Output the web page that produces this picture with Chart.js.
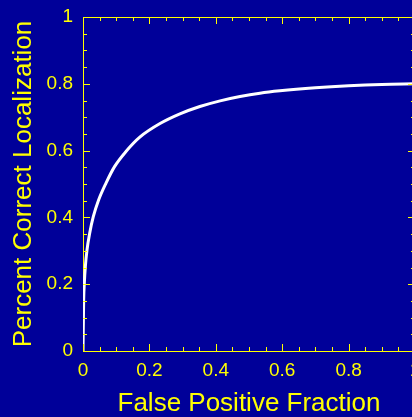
<!DOCTYPE html>
<html>
<head>
<meta charset="utf-8">
<script src="https://cdn.jsdelivr.net/npm/chart.js@4.4.1/dist/chart.umd.min.js"></script>
<style>
  html, body { margin: 0; padding: 0; background: #000099; overflow: hidden; width: 412px; height: 417px; position: relative; }
  #wrap { position: absolute; left: 0; top: 0; width: 422px; height: 417px; }
  canvas { display: block; width: 422px !important; height: 417px !important; }
</style>
</head>
<body>
<div id="wrap"><canvas id="c" width="422" height="417"></canvas></div>
<script>
// Data
const fpf = [0, 0.002, 0.004, 0.007, 0.012, 0.020, 0.031, 0.047, 0.069, 0.095, 0.130, 0.172, 0.232, 0.292, 0.352, 0.413, 0.473, 0.533, 0.593, 0.70, 0.80, 0.90, 1.00];
const pcl = [0, 0.153, 0.203, 0.252, 0.302, 0.352, 0.402, 0.452, 0.502, 0.552, 0.598, 0.641, 0.681, 0.710, 0.732, 0.749, 0.762, 0.772, 0.779, 0.788, 0.794, 0.798, 0.800];
const xTickValues = [0, 0.2, 0.4, 0.6, 0.8, 1];
const xTickLabels = ['0', '0.2', '0.4', '0.6', '0.8', '1'];
const yTickValues = [0, 0.2, 0.4, 0.6, 0.8, 1];
const yTickLabels = ['0', '0.2', '0.4', '0.6', '0.8', '1'];
const minorStep = 0.05;
const xTitle = 'False Positive Fraction';
const yTitle = 'Percent Correct Localization';

const YELLOW = '#FFFF00';
const BG = '#000099';

const points = fpf.map((x, i) => ({ x: x, y: pcl[i] }));

const frameTicks = {
  id: 'frameTicks',
  beforeDraw(chart) {
    const ctx = chart.ctx;
    ctx.save();
    ctx.fillStyle = BG;
    ctx.fillRect(0, 0, chart.width, chart.height);
    ctx.restore();
  },
  afterDatasetsDraw(chart) {
    const { ctx, chartArea: a } = chart;
    const xs = chart.scales.x, ys = chart.scales.y;
    ctx.save();
    ctx.strokeStyle = YELLOW;
    ctx.lineWidth = 1;
    ctx.beginPath();
    ctx.moveTo(a.left, a.top + 0.5); ctx.lineTo(a.right, a.top + 0.5);
    ctx.moveTo(a.right - 0.5, a.top); ctx.lineTo(a.right - 0.5, a.bottom);
    ctx.stroke();
    const n = Math.round(1 / minorStep);
    ctx.beginPath();
    for (let i = 0; i <= n; i++) {
      const v = i * minorStep;
      const major = i % 4 === 0;
      const len = major ? 7 : 4;
      const px = Math.round(xs.getPixelForValue(v)) + 0.5;
      ctx.moveTo(px, a.bottom); ctx.lineTo(px, a.bottom - len);
      ctx.moveTo(px, a.top); ctx.lineTo(px, a.top + len);
      const py = Math.round(ys.getPixelForValue(v)) + 0.5;
      ctx.moveTo(a.left, py); ctx.lineTo(a.left + len, py);
      ctx.moveTo(a.right, py); ctx.lineTo(a.right - len, py);
    }
    ctx.stroke();
    ctx.restore();
  }
};

new Chart(document.getElementById('c'), {
  type: 'scatter',
  data: {
    datasets: [{
      data: points,
      showLine: true,
      borderColor: '#FFFFFF',
      borderWidth: 3,
      pointRadius: 0,
      cubicInterpolationMode: 'monotone',
      fill: false
    }]
  },
  options: {
    responsive: false,
    maintainAspectRatio: false,
    devicePixelRatio: 1,
    animation: false,
    layout: { padding: { top: 17, right: 7, left: 0, bottom: 0 } },
    plugins: { legend: { display: false }, tooltip: { enabled: false } },
    scales: {
      x: {
        type: 'linear', min: 0, max: 1,
        afterFit(s) { s.height = 66; s.paddingLeft = 0; s.paddingRight = 0; },
        afterBuildTicks(s) { s.ticks = xTickValues.map(v => ({ value: v })); },
        grid: { display: false, drawTicks: false },
        border: { display: true, color: YELLOW, width: 1 },
        ticks: {
          color: YELLOW, padding: 8, maxRotation: 0,
          font: { family: 'Liberation Sans, Arial, sans-serif', size: 19 },
          callback: (v) => { const i = xTickValues.indexOf(v); return i >= 0 ? xTickLabels[i] : ''; }
        },
        title: {
          display: true, text: xTitle, color: YELLOW,
          font: { family: 'Liberation Sans, Arial, sans-serif', size: 26, lineHeight: 1 },
          padding: { top: 0, bottom: 0 }
        }
      },
      y: {
        type: 'linear', min: 0, max: 1,
        afterFit(s) { s.width = 83; s.paddingTop = 0; s.paddingBottom = 0; },
        afterBuildTicks(s) { s.ticks = yTickValues.map(v => ({ value: v })); },
        grid: { display: false, drawTicks: false },
        border: { display: true, color: YELLOW, width: 1 },
        ticks: {
          color: YELLOW, padding: 10,
          font: { family: 'Liberation Sans, Arial, sans-serif', size: 19 },
          callback: (v) => { const i = yTickValues.indexOf(v); return i >= 0 ? yTickLabels[i] : ''; }
        },
        title: {
          display: true, text: yTitle, color: YELLOW,
          font: { family: 'Liberation Sans, Arial, sans-serif', size: 26, lineHeight: 1 },
          padding: { top: 11, bottom: 0 }
        }
      }
    }
  },
  plugins: [frameTicks]
});
</script>
</body>
</html>
